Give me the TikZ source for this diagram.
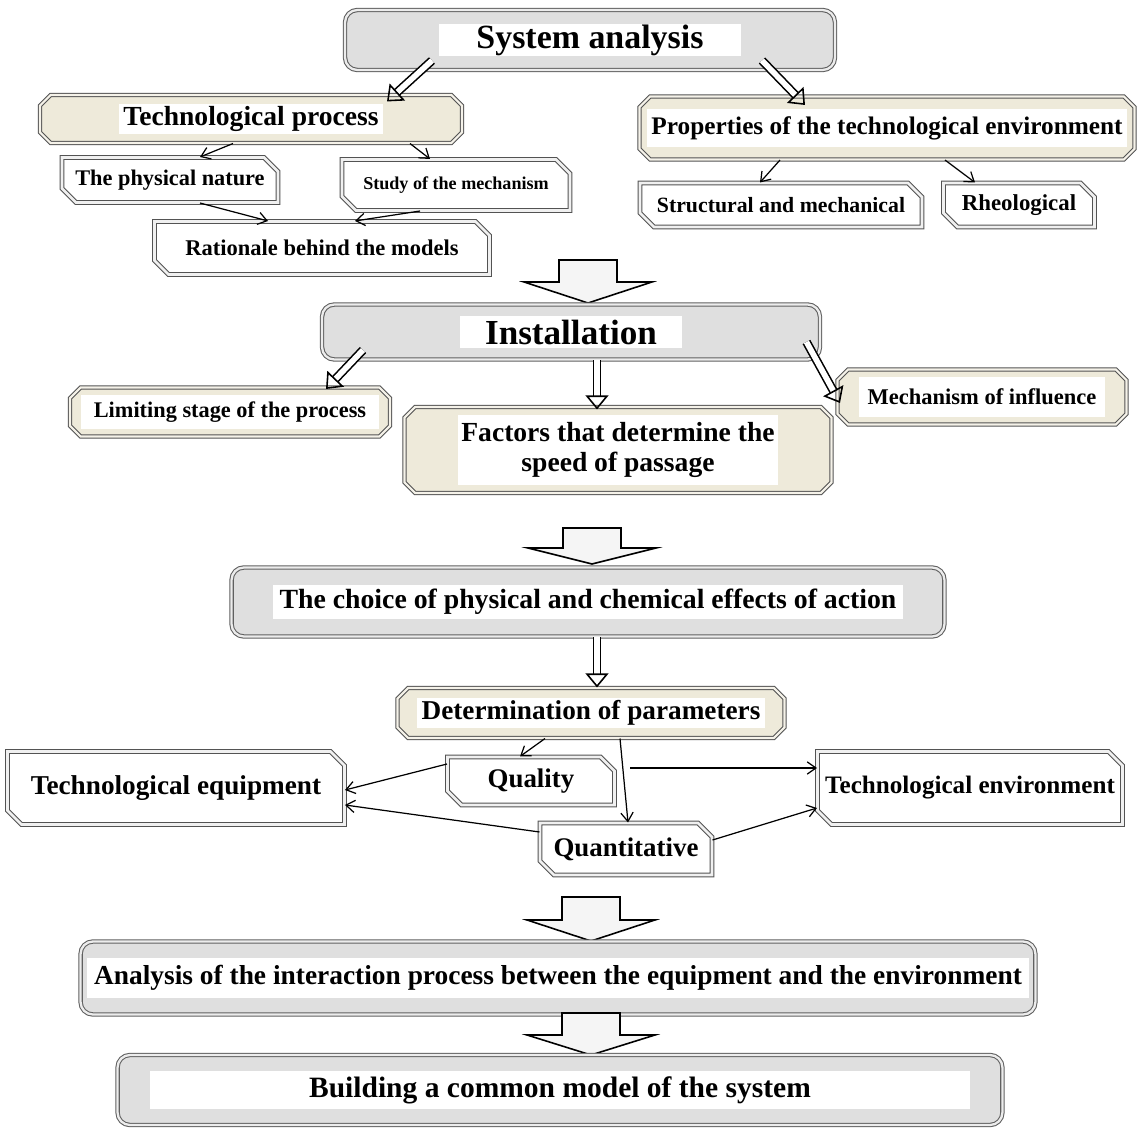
\documentclass[tikz,border=0pt]{standalone}
\usepackage{fontspec}
\setmainfont{Liberation Serif}
\usetikzlibrary{shapes.misc,arrows.meta,calc}

\definecolor{cream}{RGB}{238,234,218}
\setlength{\fboxsep}{0pt}
% white band behind a text: width, height, text
\newcommand{\strip}[3]{\colorbox{white}{\parbox[c][#2][c]{#1}{\centering #3}}}
\newcommand{\fs}[1]{\fontsize{#1}{#1}\selectfont}
% big down arrow from its top centre: coordinate, shaft length, head length
\newcommand{\blockarrow}[3]{%
    \draw[block] #1 ++(-29,0) -- ++(58,0) -- ++(0,#2) -- ++(35,0) -- ++(-64,#3)
        -- ++(-64,-#3) -- ++(35,0) -- cycle;}

\tikzset{
    roundbox/.style={draw=gray!75!black, double=gray!15, double distance=1.3pt, line width=0.6pt,
        rounded corners=7pt, fill=gray!25, inner sep=0pt, font=\bfseries},
    plaque/.style={chamfered rectangle, chamfered rectangle xsep=3pt, chamfered rectangle ysep=3pt,
        draw=gray!65!black, double=cream!60, double distance=1.2pt, line width=0.6pt,
        fill=cream, inner sep=0pt, font=\bfseries},
    bevel/.style={chamfered rectangle, chamfered rectangle corners={north east,south west},
        chamfered rectangle xsep=4pt, chamfered rectangle ysep=4pt,
        draw=gray!65!black, double=gray!12, double distance=1.5pt, line width=0.6pt,
        fill=white, inner sep=0pt, font=\bfseries},
    hollow/.style={double=white, double distance=3.2pt, line width=0.9pt,
        -{Triangle[open, length=8pt, width=13pt, line width=0.9pt]}},
    thin/.style={line width=0.7pt, -{Straight Barb[length=5pt, width=7pt]}},
    block/.style={draw=black, line width=0.9pt, fill=gray!8, line join=miter}
}

\begin{document}
\begin{tikzpicture}[x=0.02cm, y=-0.02cm]
    \useasboundingbox (0,0) rectangle (1137,1128);

    % system analysis level
    \node[roundbox, minimum width=9.8cm, minimum height=1.2cm] (sys) at (590,40)
        {\strip{6.04cm}{0.64cm}{\fs{19.3}System analysis}};
    \node[plaque, minimum width=8.44cm, minimum height=0.96cm] (tp) at (251,119)
        {\strip{5.28cm}{0.6cm}{\fs{15.7}Technological process}};
    \node[plaque, minimum width=9.9cm, minimum height=1.26cm] (prop) at (887,128)
        {\strip{9.6cm}{0.76cm}{\fs{14.4}Properties of the technological environment}};
    \node[bevel, minimum width=4.32cm, minimum height=0.9cm] (phys) at (170,180)
        {\fs{12.7}The physical nature};
    \node[bevel, minimum width=4.56cm, minimum height=1.02cm] (study) at (456,185)
        {\fs{10.3}Study of the mechanism};
    \node[bevel, minimum width=6.7cm, minimum height=1.06cm] (rat) at (322,248)
        {\fs{12.8}Rationale behind the models};
    \node[bevel, minimum width=5.64cm, minimum height=0.88cm] (struct) at (781,205)
        {\fs{12.4}Structural and mechanical};
    \node[bevel, minimum width=3.02cm, minimum height=0.88cm] (rheo) at (1019,205)
        {\fs{13}Rheological};

    \draw[hollow] ($(sys.south)+(-158,-10)$) -- ($(tp.north)+(136,7)$);
    \draw[hollow] ($(sys.south)+(172,-10)$) -- ($(prop.north)+(-82,9)$);
    \draw[thin] ($(tp.south)+(-18,0)$) -- ($(phys.north)+(30,0)$);
    \draw[thin] ($(tp.south)+(159,0)$) -- ($(study.north)+(-26,0)$);
    \draw[thin] ($(phys.south)+(30,0)$) -- ($(rat.north)+(-54,0)$);
    \draw[thin] ($(study.south)+(-36,0)$) -- ($(rat.north)+(33,0)$);
    \draw[thin] ($(prop.south)+(-107,0)$) -- ($(struct.north)+(-21,0)$);
    \draw[thin] ($(prop.south)+(58,0)$) -- ($(rheo.north)+(-44,0)$);

    \coordinate (arr1) at (588,260);
    \blockarrow{(arr1)}{22}{21}

    % installation level
    \node[roundbox, minimum width=9.96cm, minimum height=1.1cm] (inst) at (571,332)
        {\strip{4.44cm}{0.64cm}{\fs{20}Installation}};
    \node[plaque, minimum width=6.4cm, minimum height=0.98cm] (lim) at (230,412)
        {\strip{5.96cm}{0.7cm}{\fs{12.7}Limiting stage of the process}};
    \node[plaque, minimum width=8.54cm, minimum height=1.72cm] (fac) at (618,450)
        {\strip{6.4cm}{1.4cm}{\fontsize{15.7}{17.6}\selectfont Factors that determine the\\ speed of passage}};
    \node[plaque, minimum width=5.78cm, minimum height=1.1cm] (mech) at (982,397)
        {\strip{4.94cm}{0.8cm}{\fs{12.8}Mechanism of influence}};

    \draw[hollow] ($(inst.south)+(-208,-10)$) -- ($(lim.north)+(96,2)$);
    \draw[hollow] ($(inst.south)+(26,0)$) -- ($(fac.north)+(-21,3)$);
    \draw[hollow] ($(inst.east)+(-14,10)$) -- ($(mech.west)+(3,6)$);

    \coordinate (arr2) at (592,528);
    \blockarrow{(arr2)}{20}{16}

    % choice and parameters
    \node[roundbox, minimum width=14.26cm, minimum height=1.38cm] (choice) at (588,602)
        {\strip{12.6cm}{0.68cm}{\fs{15.8}The choice of physical and chemical effects of action}};
    \node[plaque, minimum width=7.74cm, minimum height=1.0cm] (det) at (591,713)
        {\strip{6.96cm}{0.62cm}{\fs{15.5}Determination of parameters}};
    \draw[hollow] ($(choice.south)+(9,0)$) -- ($(det.north)+(6,0)$);

    \node[bevel, minimum width=6.74cm, minimum height=1.46cm] (teq) at (176,788)
        {\fs{15.5}Technological equipment};
    \node[bevel, minimum width=3.34cm, minimum height=0.96cm] (qual) at (531,781)
        {\fs{15.3}Quality};
    \node[bevel, minimum width=6.1cm, minimum height=1.46cm] (tenv) at (970,788)
        {\fs{14.3}Technological environment};
    \node[bevel, minimum width=3.44cm, minimum height=1.04cm] (quant) at (626,849)
        {\fs{15.3}Quantitative};

    \draw[thin] ($(det.south)+(-46,0)$) -- ($(qual.north)+(-11,0)$);
    \draw[thin] ($(det.south)+(29,0)$) -- ($(quant.north)+(2,0)$);
    \draw[thin] ($(qual.west)+(0,-17)$) -- ($(teq.east)+(0,2)$);
    \draw[thin] ($(quant.west)+(0,-17)$) -- ($(teq.east)+(0,17)$);
    \draw[thin] ($(qual.east)+(15,-13)$) -- ($(tenv.west)+(0,-20)$);
    \draw[thin] ($(quant.east)+(0,-9)$) -- ($(tenv.west)+(0,20)$);

    \coordinate (arr3) at (591,897);
    \blockarrow{(arr3)}{23}{21}

    % final levels
    \node[roundbox, minimum width=19.1cm, minimum height=1.46cm] (ana) at (558,978)
        {\strip{18.84cm}{0.8cm}{\fs{15.6}Analysis of the interaction process between the equipment and the environment}};
    \coordinate (arr4) at (591,1013);
    \blockarrow{(arr4)}{22}{20}
    \node[roundbox, minimum width=17.7cm, minimum height=1.4cm] (build) at (560,1090)
        {\strip{16.4cm}{0.76cm}{\fs{16.8}Building a common model of the system}};
\end{tikzpicture}
\end{document}
